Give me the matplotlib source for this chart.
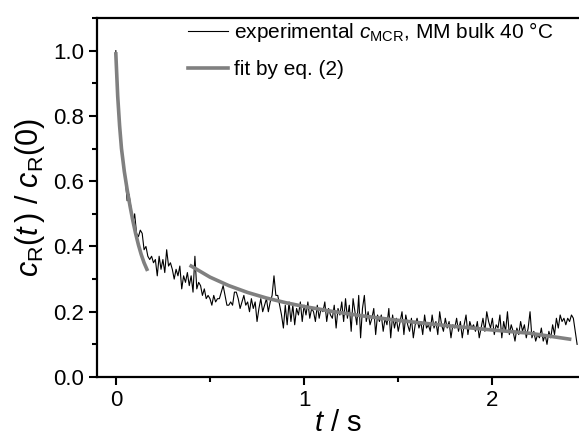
import numpy as np
import matplotlib
matplotlib.use("Agg")
import matplotlib.pyplot as plt
from matplotlib.ticker import MultipleLocator

plt.rcParams['font.family'] = ['Liberation Sans', 'DejaVu Sans']
plt.rcParams['mathtext.fontset'] = 'custom'
plt.rcParams['mathtext.rm'] = 'Liberation Sans'
plt.rcParams['mathtext.it'] = 'Liberation Sans:italic'

# experimental trace, sampled every 0.01 s from t = 0
dt = 0.01
c_exp = [
    1.00, 0.86, 0.76, 0.69, 0.66, 0.61, 0.54, 0.56, 0.52, 0.47,
    0.50, 0.44, 0.43, 0.45, 0.44, 0.39, 0.40, 0.37, 0.36, 0.37,
    0.35, 0.36, 0.31, 0.37, 0.33, 0.36, 0.32, 0.39, 0.34, 0.35,
    0.33, 0.30, 0.33, 0.31, 0.34, 0.27, 0.31, 0.29, 0.32, 0.28,
    0.31, 0.26, 0.37, 0.27, 0.29, 0.28, 0.25, 0.27, 0.24, 0.25,
    0.24, 0.22, 0.25, 0.23, 0.24, 0.24, 0.26, 0.28, 0.25, 0.22,
    0.22, 0.23, 0.22, 0.26, 0.26, 0.24, 0.21, 0.23, 0.25, 0.22,
    0.23, 0.20, 0.24, 0.21, 0.23, 0.17, 0.21, 0.24, 0.20, 0.22,
    0.24, 0.20, 0.23, 0.25, 0.31, 0.25, 0.25, 0.22, 0.19, 0.15,
    0.22, 0.16, 0.23, 0.17, 0.22, 0.16, 0.21, 0.19, 0.23, 0.17,
    0.22, 0.19, 0.23, 0.18, 0.21, 0.20, 0.17, 0.22, 0.18, 0.21,
    0.20, 0.23, 0.17, 0.21, 0.19, 0.18, 0.22, 0.15, 0.21, 0.19,
    0.23, 0.17, 0.24, 0.18, 0.22, 0.14, 0.24, 0.20, 0.16, 0.25,
    0.12, 0.21, 0.25, 0.17, 0.20, 0.16, 0.18, 0.21, 0.13, 0.19,
    0.17, 0.19, 0.14, 0.18, 0.16, 0.21, 0.12, 0.19, 0.15, 0.18,
    0.14, 0.17, 0.20, 0.13, 0.19, 0.16, 0.14, 0.18, 0.12, 0.16,
    0.18, 0.15, 0.17, 0.13, 0.19, 0.15, 0.16, 0.14, 0.19, 0.15,
    0.17, 0.13, 0.20, 0.16, 0.14, 0.18, 0.15, 0.17, 0.12, 0.16,
    0.15, 0.18, 0.14, 0.17, 0.12, 0.16, 0.19, 0.13, 0.17, 0.15,
    0.16, 0.14, 0.17, 0.12, 0.15, 0.18, 0.14, 0.20, 0.17, 0.15,
    0.18, 0.13, 0.16, 0.15, 0.19, 0.12, 0.17, 0.14, 0.20, 0.13,
    0.16, 0.14, 0.11, 0.15, 0.13, 0.17, 0.14, 0.16, 0.12, 0.15,
    0.20, 0.12, 0.14, 0.11, 0.13, 0.12, 0.15, 0.11, 0.13, 0.10,
    0.14, 0.12, 0.16, 0.13, 0.18, 0.15, 0.19, 0.17, 0.18, 0.16,
    0.18, 0.17, 0.19, 0.18, 0.14, 0.10,
]
t_exp = np.arange(len(c_exp)) * dt

# fit by eq. (2), two ranges
t_fit1 = [0.00, 0.01, 0.02, 0.03, 0.045, 0.06, 0.075, 0.09, 0.105, 0.12, 0.135, 0.15, 0.165]
c_fit1 = [0.99, 0.86, 0.77, 0.70, 0.63, 0.575, 0.525, 0.48, 0.44, 0.405, 0.375, 0.35, 0.33]
t_fit2 = [0.40, 0.50, 0.60, 0.70, 0.80, 0.90, 1.00, 1.15, 1.30, 1.45, 1.60, 1.80, 2.00, 2.20, 2.41]
c_fit2 = [0.340, 0.306, 0.280, 0.259, 0.242, 0.228, 0.216, 0.201, 0.188, 0.177, 0.167, 0.155, 0.144, 0.134, 0.116]

fig = plt.figure(figsize=(5.79, 4.36), dpi=100)
ax = fig.add_axes([97 / 579, 59 / 436, 482 / 579, 359 / 436])

ax.plot(t_exp, c_exp, color='black', lw=0.8,
        label=r'experimental $c_{\mathrm{MCR}}$, MM bulk 40 °C')
ax.plot(t_fit1, c_fit1, color='#808080', lw=2.6, label='fit by eq. (2)')
ax.plot(t_fit2, c_fit2, color='#808080', lw=2.6)

ax.set_xlim(-0.1, 2.46)
ax.set_ylim(0, 1.1)
ax.xaxis.set_major_locator(MultipleLocator(1))
ax.xaxis.set_minor_locator(MultipleLocator(0.5))
ax.yaxis.set_major_locator(MultipleLocator(0.2))
ax.yaxis.set_minor_locator(MultipleLocator(0.1))
ax.yaxis.set_major_formatter(matplotlib.ticker.FormatStrFormatter('%.1f'))

for s in ['left', 'bottom', 'top']:
    ax.spines[s].set_linewidth(1.6)
ax.spines['right'].set_visible(False)
ax.tick_params(which='major', direction='out', length=6, width=1.5, labelsize=16, pad=3)
ax.tick_params(which='minor', direction='out', length=3.5, width=1.5)
ax.tick_params(top=False, right=False)

ax.set_xlabel(r'$t$ / s', fontsize=21, labelpad=-1)
ax.set_ylabel(r'$c_{\mathrm{R}}(t\,)$ / $c_{\mathrm{R}}(0)$', fontsize=22, labelpad=5)

ax.legend(loc='upper left', bbox_to_anchor=(0.18, 1.005), frameon=False,
          fontsize=15, handlelength=1.9, handletextpad=0.3, labelspacing=0.75,
          borderpad=0.2, borderaxespad=0)

fig.savefig('out.png', dpi=100)
